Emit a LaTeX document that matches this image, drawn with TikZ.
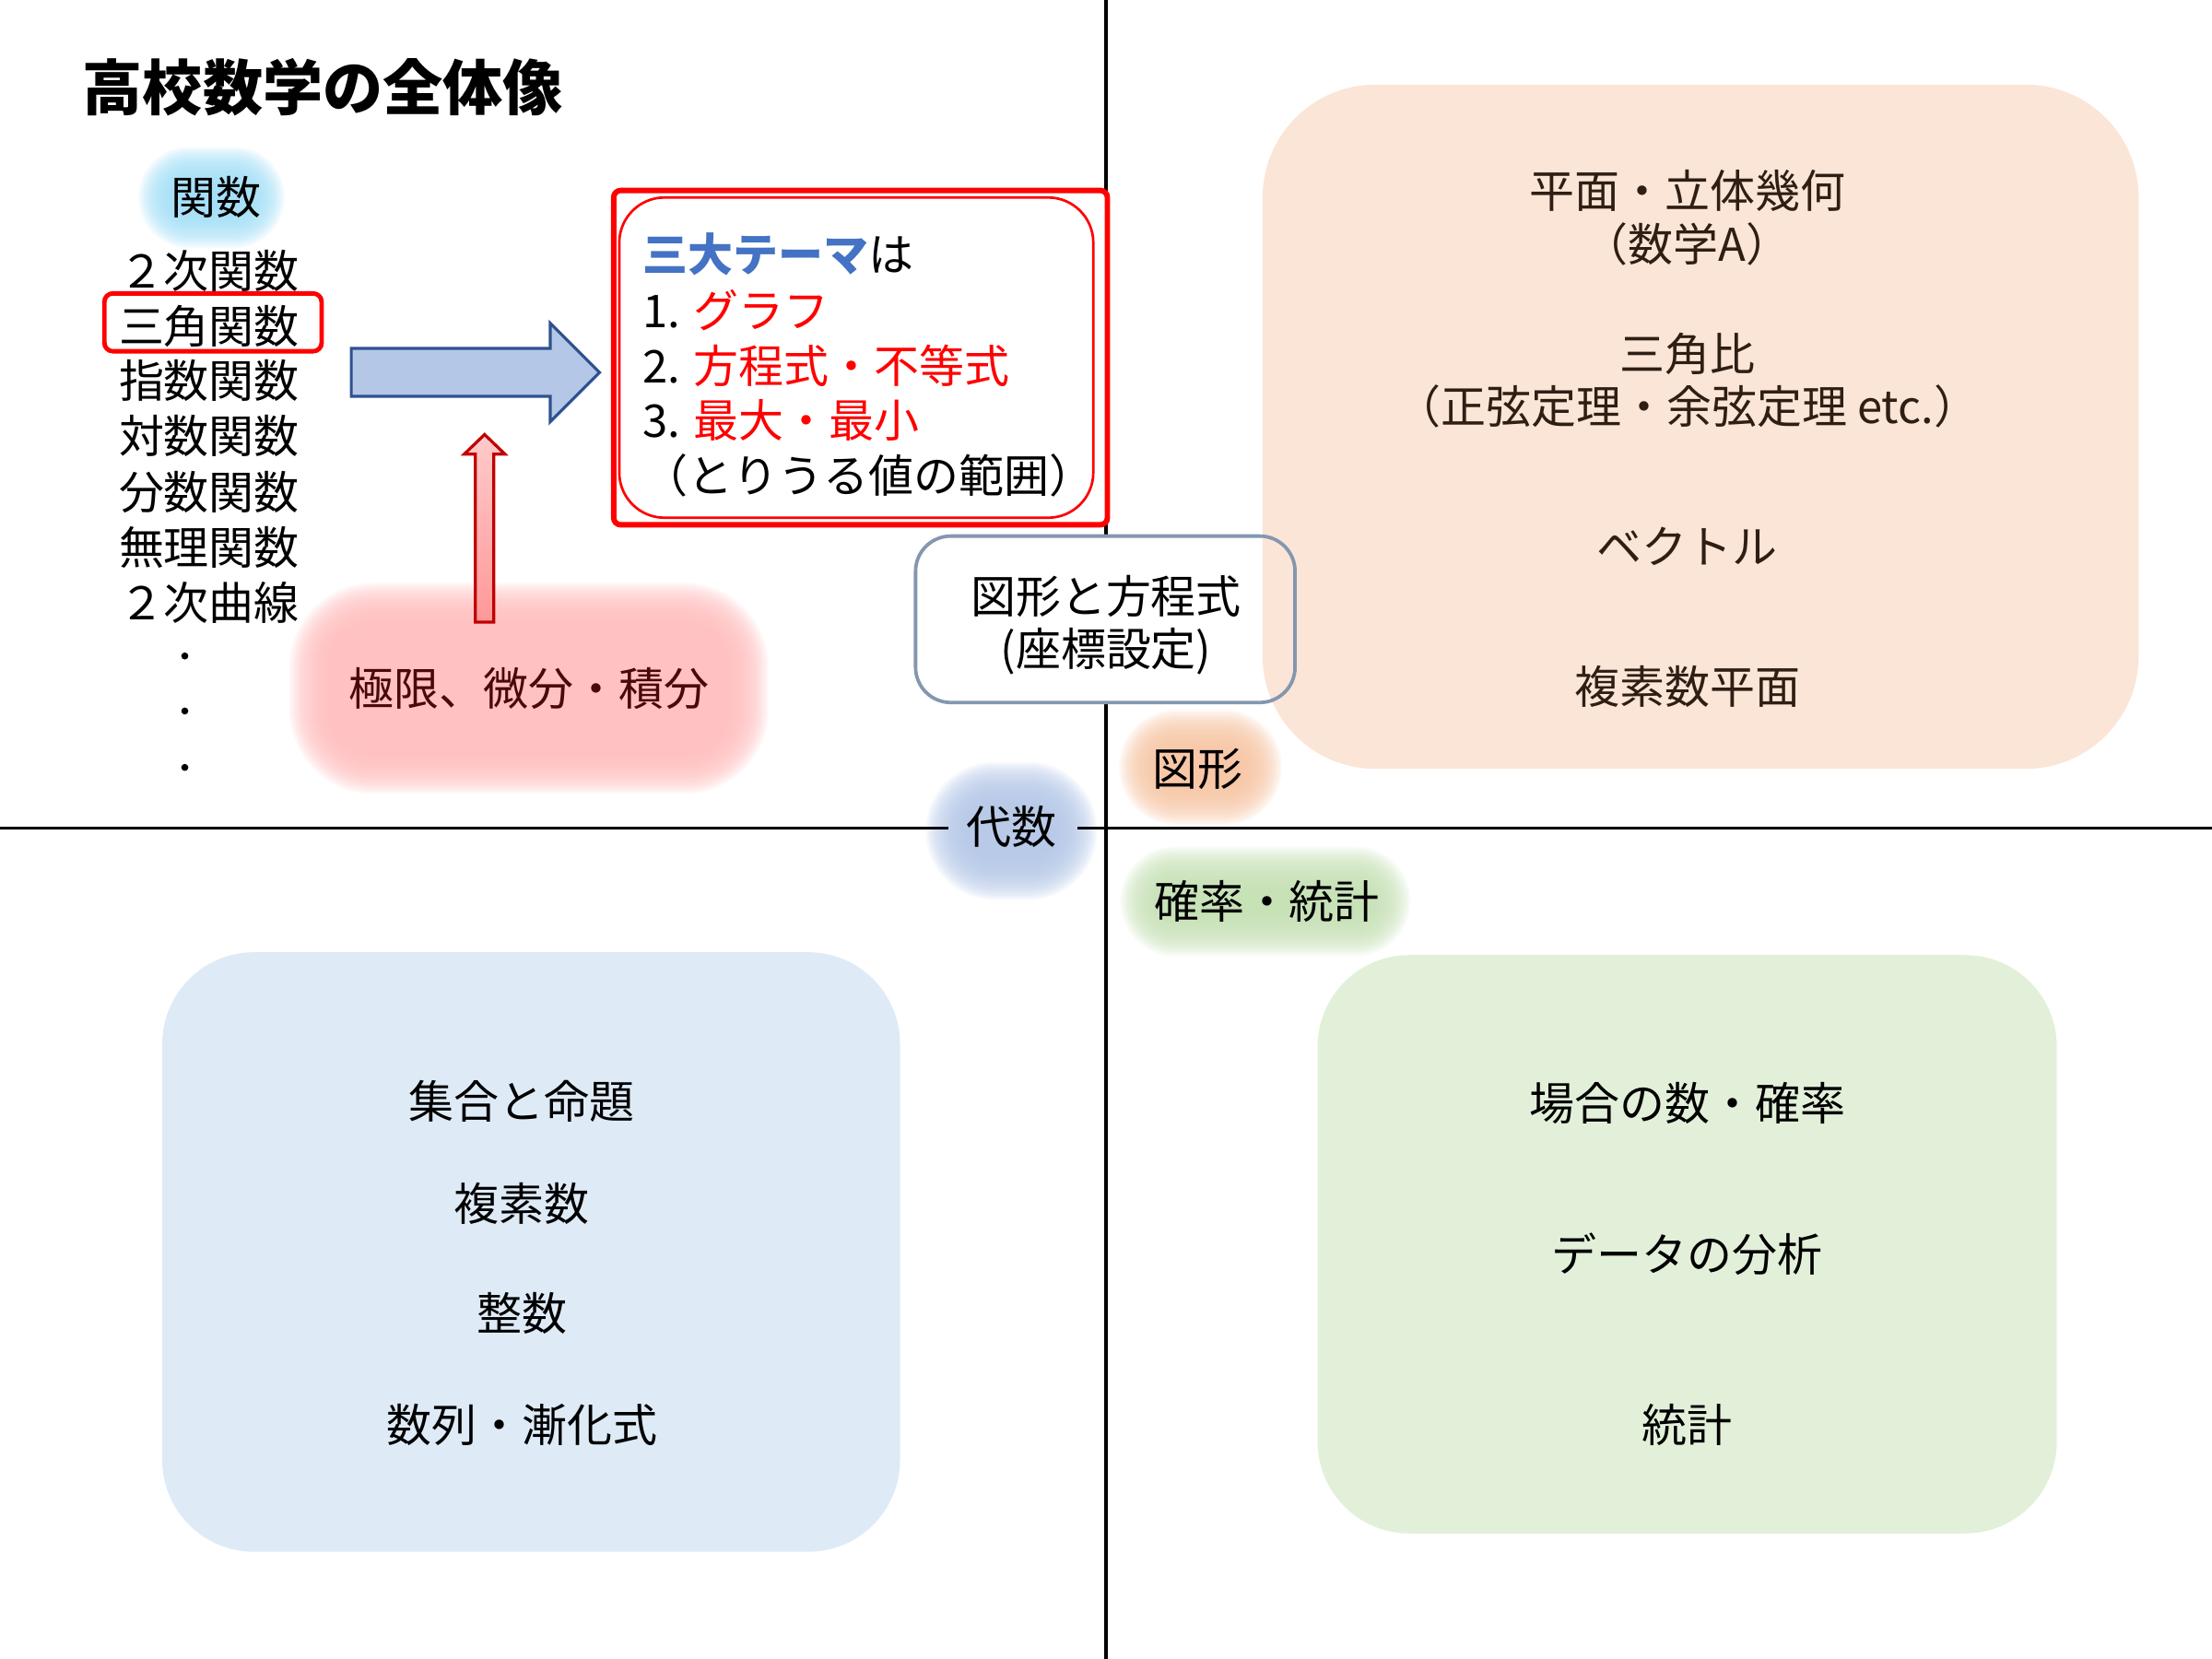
\documentclass[tikz,border=0pt]{standalone}
\usepackage{fontspec}
\setmainfont{Noto Sans CJK JP}

\definecolor{peach}{HTML}{FBE5D6}
\definecolor{paleblue}{HTML}{DEEBF7}
\definecolor{palegreen}{HTML}{E2F0D9}
\definecolor{arrowfill}{HTML}{B4C7E7}
\definecolor{arrowedge}{HTML}{2F528F}
\definecolor{pinktop}{HTML}{FFCACA}
\definecolor{pinkbot}{HTML}{FF9898}
\definecolor{darkred}{HTML}{C00000}
\definecolor{themeblue}{HTML}{4472C4}
\definecolor{greyblue}{HTML}{8497B0}
\definecolor{glowcyan}{HTML}{9FDDF6}
\definecolor{glowblue}{HTML}{B4C7E7}
\definecolor{gloworange}{HTML}{F6C4A2}
\definecolor{glowgreen}{HTML}{C5E0B4}
\definecolor{glowpink}{HTML}{FFBDBD}
\definecolor{browntext}{HTML}{2E1E14}
\definecolor{redtext}{HTML}{4A0808}

\tikzset{
  lbl/.style={font=\fontsize{9.1}{11}\selectfont, inner sep=0pt},
  axis/.style={line width=0.6pt},
  area/.style={rounded corners=#1*0.2845pt},
}

% soft glow behind a label: colour, cx, cy, half width, half height, corner
\newcommand{\glow}[6]{%
  \foreach \g in {30,29,...,0}{
    \pgfmathsetmacro\rad{(#6+\g)*0.2845}
    \fill[#1, opacity=0.085, rounded corners=\rad pt]
      ({#2-#4-\g},{#3-#5-\g}) rectangle ({#2+#4+\g},{#3+#5+\g});
  }
}

\begin{document}
\begin{tikzpicture}[x=0.01cm,y=-0.01cm]
  \useasboundingbox (0,0) rectangle (1568,1176);

  % glows
  \glow{glowcyan}{150}{140}{22}{6}{6}
  \glow{glowpink}{375}{488}{140}{45}{30}
  \glow{glowblue}{717}{589}{31}{19}{19}
  \glow{gloworange}{851}{544}{28}{11}{11}
  \glow{glowgreen}{897}{639}{73}{9}{9}

  % axes
  \draw[axis] (784,0) -- (784,1176);
  \draw[axis] (0,587) -- (672,587) (764,587) -- (1568,587);

  % areas
  \fill[white, area=25] (649,380) rectangle (918,498);
  \fill[peach, area=80] (895,60) rectangle (1516,545);
  \fill[paleblue, area=65] (115,675) rectangle (638,1100);
  \fill[palegreen, area=65] (934,677) rectangle (1458,1087);
  \draw[greyblue, line width=0.7pt, area=25] (649,380) rectangle (918,498);

  % title
  \node[font=\fontsize{12.1}{14}\selectfont\bfseries, inner sep=0pt, anchor=west] (title) at (58,62) {高校数学の全体像};

  % functions
  \node[lbl] (kansu) at (153,140) {関数};
  \node[lbl, anchor=east] (niji) at (213,192) {２次関数};
  \node[lbl, anchor=east] (sankaku) at (213,231) {三角関数};
  \node[lbl, anchor=east] (shisu) at (213,270) {指数関数};
  \node[lbl, anchor=east] (taisu) at (213,309) {対数関数};
  \node[lbl, anchor=east] (bunsu) at (213,349) {分数関数};
  \node[lbl, anchor=east] (muri) at (213,388) {無理関数};
  \node[lbl, anchor=east] (kyokusen) at (213,427) {２次曲線};
  \fill (131,465) circle (2.5) (131,504) circle (2.5) (131,544) circle (2.5);
  \draw[red, line width=0.9pt, area=6] (74,208) rectangle (228,249);

  % calculus
  \node[lbl, text=redtext] (bibun) at (375,488) {極限、微分・積分};

  % arrows
  \filldraw[fill=arrowfill, draw=arrowedge, line width=0.6pt]
    (249,247) -- (390,247) -- (390,229) -- (425,264) -- (390,299) -- (390,281) -- (249,281) -- cycle;
  \shadedraw[top color=pinktop, bottom color=pinkbot, draw=darkred, line width=0.6pt]
    (337,441) -- (337,322) -- (329,322) -- (343.5,308) -- (358,322) -- (350,322) -- (350,441) -- cycle;

  % three themes
  \filldraw[fill=white, draw=red, line width=1.1pt, area=5] (435,135) rectangle (785,372);
  \draw[red, line width=0.5pt, area=32] (439,140) rectangle (775,367);
  \node[lbl, anchor=west] (theme) at (455,180) {\textbf{\textcolor{themeblue}{三大テーマ}}は};
  \node[lbl, anchor=west] (graph) at (455,220) {1. \textcolor{red}{グラフ}};
  \node[lbl, anchor=west] (hoteishiki) at (455,259) {2. \textcolor{red}{方程式・不等式}};
  \node[lbl, anchor=west] (saidai) at (455,298) {3. \textcolor{red}{最大・最小}};
  \node[lbl, anchor=west] (hani) at (455,337) {（とりうる値の範囲）};

  % zukei to hoteishiki
  \node[lbl] (zh1) at (784,423) {図形と方程式};
  \node[lbl] (zh2) at (784,462) {(座標設定)};

  % quadrant labels
  \node[lbl] (daisu) at (717,586) {代数};
  \node[lbl] (zukei) at (849,545) {図形};
  \node[lbl] (kakuritsu) at (898,639) {確率・統計};

  % geometry
  \node[lbl, text=browntext] (g1) at (1196,135) {平面・立体幾何};
  \node[lbl, text=browntext] (g2) at (1196,173) {（数学A）};
  \node[lbl, text=browntext] (g3) at (1196,251) {三角比};
  \node[lbl, text=browntext] (g4) at (1196,288) {（正弦定理・余弦定理 etc.）};
  \node[lbl, text=browntext] (g5) at (1196,387) {ベクトル};
  \node[lbl, text=browntext] (g6) at (1196,487) {複素数平面};

  % algebra
  \node[lbl] (a1) at (370,781) {集合と命題};
  \node[lbl] (a2) at (370,853) {複素数};
  \node[lbl] (a3) at (370,931) {整数};
  \node[lbl] (a4) at (370,1010) {数列・漸化式};

  % probability
  \node[lbl] (p1) at (1196,782) {場合の数・確率};
  \node[lbl] (p2) at (1196,889) {データの分析};
  \node[lbl] (p3) at (1196,1010) {統計};
\end{tikzpicture}
\end{document}
